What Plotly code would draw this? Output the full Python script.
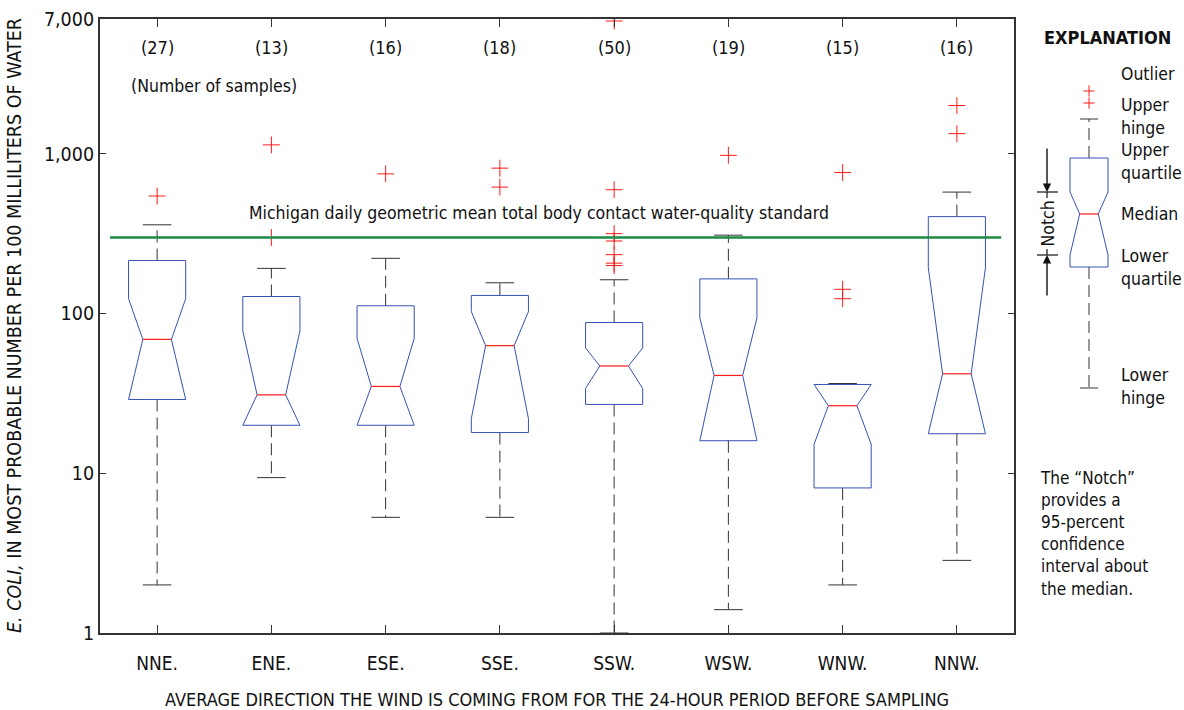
import math
import plotly.graph_objects as go

# E. coli concentrations grouped by the average wind direction of the previous 24 hours
categories = ["NNE.", "ENE.", "ESE.", "SSE.", "SSW.", "WSW.", "WNW.", "NNW."]
sample_counts = [27, 13, 16, 18, 50, 19, 15, 16]
lower_hinge = [2.0, 9.4, 5.3, 5.3, 1.0, 1.4, 2.0, 2.85]
lower_quartile = [29, 20, 20, 18, 27, 16, 8.1, 17.7]
notch_low = [29, 20, 20, 22, 34, 16, 15.2, 17.7]
median = [69, 31, 35, 63, 47, 41, 26.5, 42]
notch_high = [124, 78, 70, 103, 61, 94, 36, 194]
upper_quartile = [215, 128, 112, 130, 88, 165, 36, 405]
upper_hinge = [360, 192, 222, 156, 163, 310, 36.5, 577]
outliers = [
    [545],
    [300, 1140],
    [750],
    [620, 815],
    [200, 207, 234, 285, 317, 597, 6800],
    [980],
    [124, 142, 765],
    [1340, 2010],
]
standard_value = 300  # Michigan daily geometric mean, total body contact
y_tick_values = [1, 10, 100, 1000, 7000]
y_tick_labels = ["1", "10", "100", "1,000", "7,000"]
y_max = 7000
y_minor_values = [m * 10 ** d for d in range(4) for m in range(2, 10) if m * 10 ** d < y_max]

FONT = "Liberation Sans Narrow, DejaVu Sans Condensed, Roboto Condensed, Arial Narrow, Roboto, sans-serif"
BLUE = "#3652b4"
RED = "#ff1a1a"
DARK = "#333333"
TEXT = "#111111"
GREEN = "#1f8a45"

BOX_HALF = 0.25
NOTCH_HALF = 0.125
CAP_HALF = 0.125


def notched_outline(x, q1, nlo, med, nhi, q3, hw, nw):
    xs = [x - hw, x - hw, x - nw, x - hw, x - hw, x + hw, x + hw, x + nw, x + hw, x + hw, x - hw]
    ys = [q1, nlo, med, nhi, q3, q3, nhi, med, nlo, q1, q1]
    return xs, ys


def add_boxes(fig, xs_pos, lo, q1, nlo, med, nhi, q3, hi, outl, hw, nw, cw, xa, ya, msize):
    box_x, box_y = [], []
    med_x, med_y = [], []
    wh_x, wh_y = [], []
    cap_x, cap_y = [], []
    out_x, out_y = [], []
    for i, x in enumerate(xs_pos):
        bx, by = notched_outline(x, q1[i], nlo[i], med[i], nhi[i], q3[i], hw, nw)
        box_x += bx + [None]
        box_y += by + [None]
        med_x += [x - nw, x + nw, None]
        med_y += [med[i], med[i], None]
        wh_x += [x, x, None, x, x, None]
        wh_y += [q3[i], hi[i], None, q1[i], lo[i], None]
        cap_x += [x - cw, x + cw, None, x - cw, x + cw, None]
        cap_y += [hi[i], hi[i], None, lo[i], lo[i], None]
        for v in outl[i]:
            out_x.append(x)
            out_y.append(v)
    common = dict(xaxis=xa, yaxis=ya, showlegend=False, hoverinfo="skip")
    fig.add_trace(go.Scatter(x=wh_x, y=wh_y, mode="lines",
                             line=dict(color=DARK, width=1, dash="12px,6px"), **common))
    fig.add_trace(go.Scatter(x=cap_x, y=cap_y, mode="lines",
                             line=dict(color=DARK, width=1), **common))
    fig.add_trace(go.Scatter(x=box_x, y=box_y, mode="lines",
                             line=dict(color=BLUE, width=1), **common))
    fig.add_trace(go.Scatter(x=med_x, y=med_y, mode="lines",
                             line=dict(color=RED, width=1.2), **common))
    fig.add_trace(go.Scatter(x=out_x, y=out_y, mode="markers",
                             marker=dict(symbol="cross-thin", size=msize,
                                         line=dict(color=RED, width=1)),
                             **common))


fig = go.Figure()
positions = list(range(len(categories)))
add_boxes(fig, positions, lower_hinge, lower_quartile, notch_low, median, notch_high,
          upper_quartile, upper_hinge, outliers, BOX_HALF, NOTCH_HALF, CAP_HALF, "x", "y", 12)

# Water-quality standard line
fig.add_shape(type="line", xref="x domain", yref="y", x0=0.011, x1=0.986,
              y0=standard_value, y1=standard_value, line=dict(color=GREEN, width=2.6))
fig.add_annotation(xref="x domain", yref="y", x=0.48, y=math.log10(standard_value), yshift=12,
                   xanchor="center", yanchor="bottom", showarrow=False,
                   text="Michigan daily geometric mean total body contact water-quality standard",
                   font=dict(family=FONT, size=17.5, color=TEXT))

# Sample counts above each group
for i, n in enumerate(sample_counts):
    fig.add_annotation(xref="x", yref="y domain", x=i, y=0.954, xanchor="center",
                       yanchor="middle", showarrow=False,
                       text=f"({n})", font=dict(family=FONT, size=18, color=TEXT))
fig.add_annotation(xref="x domain", yref="y domain", x=0.032, y=0.891, xanchor="left",
                   yanchor="middle", showarrow=False, text="(Number of samples)",
                   font=dict(family=FONT, size=17.5, color=TEXT))

# --- Explanation panel, drawn on its own hidden axes ---
ex_center = [75]
ex_lower = [245]
ex_q1 = [366]
ex_nlo = [378]
ex_med = [419]
ex_nhi = [441]
ex_q3 = [475]
ex_upper = [514]
ex_out = [[530, 542]]
add_boxes(fig, ex_center, ex_lower, ex_q1, ex_nlo, ex_med, ex_nhi, ex_q3, ex_upper, ex_out,
          19, 9.3, 9, "x2", "y2", 8)

ex_font = dict(family=FONT, size=17.5, color=TEXT)
fig.add_annotation(xref="x2", yref="y2", x=28, y=596, xanchor="left", yanchor="middle",
                   showarrow=False, text="<b>EXPLANATION</b>",
                   font=dict(family=FONT, size=18, color=TEXT))
ex_labels = [
    ("Outlier", 559),
    ("Upper<br>hinge", 517),
    ("Upper<br>quartile", 472),
    ("Median", 419),
    ("Lower<br>quartile", 365.5),
    ("Lower<br>hinge", 247),
]
for txt, yv in ex_labels:
    fig.add_annotation(xref="x2", yref="y2", x=105, y=yv, xanchor="left", yanchor="middle",
                       align="left", showarrow=False, text=txt, font=ex_font)

# Notch bracket with arrows
for yv in ex_nlo + ex_nhi:
    fig.add_shape(type="line", xref="x2", yref="y2", x0=23, x1=44, y0=yv, y1=yv,
                  line=dict(color=TEXT, width=1.2))
fig.add_shape(type="line", xref="x2", yref="y2", x0=33, x1=33, y0=ex_nhi[0], y1=ex_nhi[0] - 6,
              line=dict(color=TEXT, width=1.2))
fig.add_shape(type="line", xref="x2", yref="y2", x0=33, x1=33, y0=ex_nlo[0], y1=ex_nlo[0] + 6,
              line=dict(color=TEXT, width=1.2))
fig.add_annotation(xref="x2", yref="y2", x=33, y=(ex_nlo[0] + ex_nhi[0]) / 2, textangle=-90,
                   xanchor="center", yanchor="middle", showarrow=False, text="Notch",
                   font=ex_font)
fig.add_annotation(xref="x2", yref="y2", x=33, y=ex_nhi[0], axref="x2", ayref="y2",
                   ax=33, ay=486, showarrow=True, arrowhead=2, arrowsize=1.2, arrowwidth=1.4,
                   arrowcolor=TEXT, text="")
fig.add_annotation(xref="x2", yref="y2", x=33, y=ex_nlo[0], axref="x2", ayref="y2",
                   ax=33, ay=336, showarrow=True, arrowhead=2, arrowsize=1.2, arrowwidth=1.4,
                   arrowcolor=TEXT, text="")
fig.add_annotation(xref="x2", yref="y2", x=24, y=167, xanchor="left", yanchor="top",
                   align="left", showarrow=False,
                   text="The \u201cNotch\u201d<br>provides a<br>95-percent<br>confidence<br>interval about<br>the median.",
                   font=dict(family=FONT, size=17, color=TEXT))

# Axis titles
fig.add_annotation(xref="paper", yref="paper", x=-0.0793, y=0.5, textangle=-90,
                   xanchor="center", yanchor="middle", showarrow=False,
                   text="<i>E. COLI,</i> IN MOST PROBABLE NUMBER PER 100 MILLILITERS OF WATER",
                   font=dict(family=FONT, size=19.5, color=TEXT))
fig.add_annotation(xref="x domain", yref="paper", x=0.5, y=-0.108, xanchor="center",
                   yanchor="middle", showarrow=False,
                   text="AVERAGE DIRECTION THE WIND IS COMING FROM FOR THE 24-HOUR PERIOD BEFORE SAMPLING",
                   font=dict(family=FONT, size=18, color=TEXT))

axis_line = dict(showline=True, linecolor=DARK, linewidth=2, mirror="ticks",
                 showgrid=False, zeroline=False, tickcolor=DARK)
y_range = [0, math.log10(y_max)]
fig.update_layout(
    width=1184, height=710,
    margin=dict(l=100, r=0, t=19, b=77),
    paper_bgcolor="white", plot_bgcolor="white",
    font=dict(family=FONT, size=19, color=TEXT),
    xaxis=dict(domain=[0, 914 / 1084], range=[-0.5, 7.5], tickmode="array",
               tickvals=positions, ticktext=categories, ticks="inside", ticklen=8,
               ticklabelstandoff=12, tickfont=dict(size=19), **axis_line),
    yaxis=dict(type="log", range=y_range, tickmode="array",
               tickvals=y_tick_values, ticktext=y_tick_labels, ticks="inside", ticklen=6,
               ticklabelstandoff=0, tickfont=dict(size=19.5), **axis_line),
    # minor log ticks on an overlaid axis
    yaxis3=dict(type="log", range=y_range, overlaying="y", anchor="x", side="left",
                tickmode="array", tickvals=y_minor_values,
                ticktext=["" for _ in y_minor_values], ticks="inside", ticklen=4,
                **axis_line),
    xaxis2=dict(domain=[914 / 1084, 1], range=[0, 170], visible=False, anchor="y2"),
    yaxis2=dict(domain=[0, 1], range=[0, 614], visible=False, anchor="x2"),
)

fig.write_html("out.html")
